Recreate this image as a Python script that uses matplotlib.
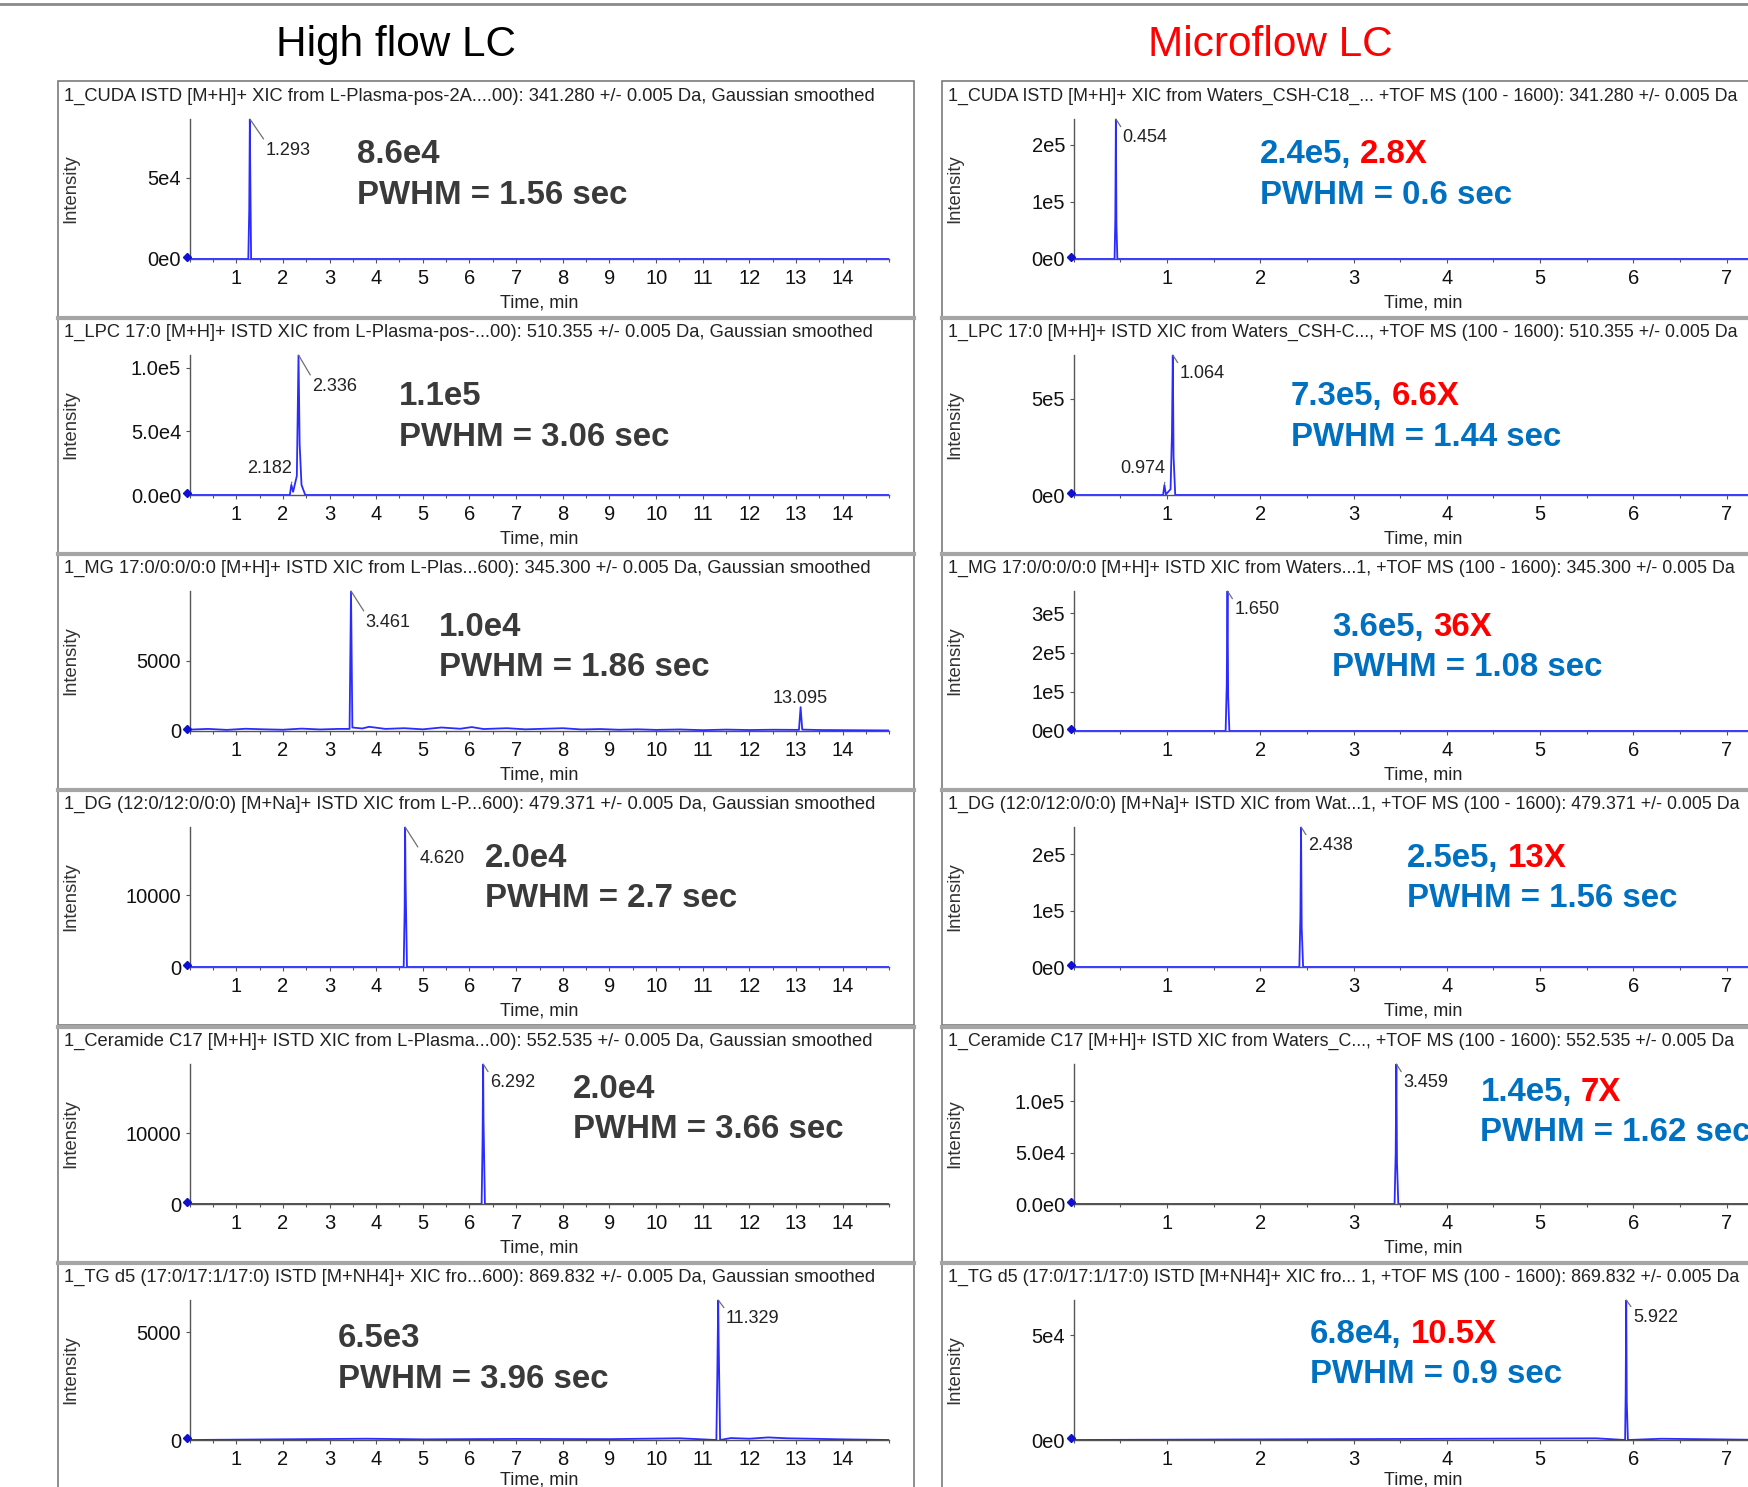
import matplotlib
matplotlib.use("Agg")
import matplotlib.pyplot as plt
from matplotlib.patches import Rectangle
from matplotlib.lines import Line2D
from matplotlib.ticker import MultipleLocator
import matplotlib.transforms as mtransforms

plt.rcParams['font.family'] = ['Liberation Sans', 'DejaVu Sans']

# ---------------- data ----------------
col_titles = ["High flow LC", "Microflow LC"]

left_titles = [
    "1_CUDA ISTD [M+H]+ XIC from L-Plasma-pos-2A....00): 341.280 +/- 0.005 Da, Gaussian smoothed",
    "1_LPC 17:0 [M+H]+ ISTD XIC from L-Plasma-pos-...00): 510.355 +/- 0.005 Da, Gaussian smoothed",
    "1_MG 17:0/0:0/0:0 [M+H]+ ISTD XIC from L-Plas...600): 345.300 +/- 0.005 Da, Gaussian smoothed",
    "1_DG (12:0/12:0/0:0) [M+Na]+ ISTD XIC from L-P...600): 479.371 +/- 0.005 Da, Gaussian smoothed",
    "1_Ceramide C17 [M+H]+ ISTD XIC from L-Plasma...00): 552.535 +/- 0.005 Da, Gaussian smoothed",
    "1_TG d5 (17:0/17:1/17:0) ISTD [M+NH4]+ XIC fro...600): 869.832 +/- 0.005 Da, Gaussian smoothed",
]
right_titles = [
    "1_CUDA ISTD [M+H]+ XIC from Waters_CSH-C18_... +TOF MS (100 - 1600): 341.280 +/- 0.005 Da",
    "1_LPC 17:0 [M+H]+ ISTD XIC from Waters_CSH-C..., +TOF MS (100 - 1600): 510.355 +/- 0.005 Da",
    "1_MG 17:0/0:0/0:0 [M+H]+ ISTD XIC from Waters...1, +TOF MS (100 - 1600): 345.300 +/- 0.005 Da",
    "1_DG (12:0/12:0/0:0) [M+Na]+ ISTD XIC from Wat...1, +TOF MS (100 - 1600): 479.371 +/- 0.005 Da",
    "1_Ceramide C17 [M+H]+ ISTD XIC from Waters_C..., +TOF MS (100 - 1600): 552.535 +/- 0.005 Da",
    "1_TG d5 (17:0/17:1/17:0) ISTD [M+NH4]+ XIC fro... 1, +TOF MS (100 - 1600): 869.832 +/- 0.005 Da",
]

# traces: retention time (min) and intensity points
left_t = [
    [0, 1.26, 1.28, 1.293, 1.30, 1.32, 15],
    [0, 2.15, 2.182, 2.22, 2.30, 2.336, 2.36, 2.40, 2.48, 15],
    [0, 0.4, 0.8, 1.2, 1.6, 2.0, 2.4, 2.8, 3.2, 3.43, 3.461, 3.49, 3.7, 3.85, 4.2, 4.6,
     5.0, 5.4, 5.8, 6.05, 6.3, 6.8, 7.2, 7.6, 8.0, 8.4, 8.8, 9.2, 9.6, 10.0, 10.5, 11.0,
     11.5, 12.0, 12.5, 13.06, 13.095, 13.13, 13.5, 14.0, 14.5, 15.0],
    [0, 4.59, 4.61, 4.620, 4.63, 4.66, 15],
    [0, 6.26, 6.28, 6.292, 6.30, 6.33, 15],
    [0, 3.8, 5.0, 7.0, 9.0, 10.5, 11.29, 11.31, 11.329, 11.34, 11.37, 11.6, 12.0, 12.4, 12.8, 13.3, 14.0, 15],
]
left_y = [
    [0, 0, 30000, 86000, 60000, 0, 0],
    [0, 0, 8000, 2500, 15000, 110000, 40000, 8000, 0, 0],
    [100, 150, 80, 160, 120, 90, 170, 110, 150, 150, 10000, 250, 180, 300, 150, 200,
     120, 250, 160, 280, 140, 200, 120, 160, 200, 110, 140, 90, 120, 80, 110, 60,
     100, 70, 90, 80, 1700, 100, 70, 60, 50, 40],
    [0, 0, 8000, 19500, 12000, 0, 0],
    [0, 0, 9000, 19800, 12000, 0, 0],
    [0, 60, 30, 50, 40, 80, 0, 3000, 6500, 4500, 0, 90, 60, 120, 80, 60, 30, 0],
]
right_t = [
    [0, 0.44, 0.448, 0.454, 0.46, 0.47, 7.5],
    [0, 0.96, 0.974, 0.99, 1.04, 1.055, 1.064, 1.072, 1.09, 7.5],
    [0, 1.63, 1.642, 1.650, 1.657, 1.67, 7.5],
    [0, 2.42, 2.431, 2.438, 2.445, 2.46, 7.5],
    [0, 3.44, 3.452, 3.459, 3.466, 3.48, 7.5],
    [0, 5.6, 5.91, 5.916, 5.922, 5.928, 5.94, 6.3, 7.5],
]
right_y = [
    [0, 0, 70000, 245000, 60000, 0, 0],
    [0, 0, 52000, 3000, 30000, 320000, 727000, 200000, 0, 0],
    [0, 0, 120000, 357000, 90000, 0, 0],
    [0, 0, 90000, 248000, 70000, 0, 0],
    [0, 0, 50000, 136000, 40000, 0, 0],
    [0, 800, 0, 22000, 66700, 18000, 0, 600, 0],
]

left_ticks = [[0, 5e4], [0, 5e4, 1e5], [0, 5000], [0, 10000], [0, 10000], [0, 5000]]
left_tick_labels = [["0e0", "5e4"], ["0.0e0", "5.0e4", "1.0e5"], ["0", "5000"],
                    ["0", "10000"], ["0", "10000"], ["0", "5000"]]
right_ticks = [[0, 1e5, 2e5], [0, 5e5], [0, 1e5, 2e5, 3e5], [0, 1e5, 2e5], [0, 5e4, 1e5], [0, 5e4]]
right_tick_labels = [["0e0", "1e5", "2e5"], ["0e0", "5e5"], ["0e0", "1e5", "2e5", "3e5"],
                     ["0e0", "1e5", "2e5"], ["0.0e0", "5.0e4", "1.0e5"], ["0e0", "5e4"]]
x_tick_max = [14, 7]

# labelled peaks: (rt, intensity)
left_peaks = [[(1.293, 86000)], [(2.336, 110000), (2.182, 8000)], [(3.461, 10000), (13.095, 1700)],
              [(4.620, 19500)], [(6.292, 19800)], [(11.329, 6500)]]
right_peaks = [[(0.454, 245000)], [(1.064, 727000), (0.974, 52000)], [(1.650, 357000)],
               [(2.438, 248000)], [(3.459, 136000)], [(5.922, 66700)]]

left_height = ["8.6e4", "1.1e5", "1.0e4", "2.0e4", "2.0e4", "6.5e3"]
left_pwhm = ["PWHM = 1.56 sec", "PWHM = 3.06 sec", "PWHM = 1.86 sec",
             "PWHM = 2.7 sec", "PWHM = 3.66 sec", "PWHM = 3.96 sec"]
right_height = ["2.4e5,", "7.3e5,", "3.6e5,", "2.5e5,", "1.4e5,", "6.8e4,"]
right_gain = ["2.8X", "6.6X", "36X", "13X", "7X", "10.5X"]
right_pwhm = ["PWHM = 0.6 sec", "PWHM = 1.44 sec", "PWHM = 1.08 sec",
              "PWHM = 1.56 sec", "PWHM = 1.62 sec", "PWHM = 0.9 sec"]

# ---------------- layout (pixels of the 1748x1487 canvas) ----------------
W, H = 1748, 1487
S = 1748 / 1568.0
row_tops = [81, 317, 553, 789, 1026, 1262]
row_h = 236
box_left = [58, 942]
box_w = 856
ax_left = [189.5, 1073.5]
ax_w = 700
xmax = [15, 7.5]
title_size = [13.25, 12.9]

# annotation text positions (shrunk coords: x, y line1, y line2)
left_txt_pos = [(320, 139, 175), (358, 356, 392), (394, 563, 599), (435, 770, 806), (514, 977, 1013), (303, 1201, 1237)]
right_txt_pos = [(1130, 139, 175), (1158, 356, 392), (1195, 563, 599), (1262, 770, 806), (1328, 980, 1016), (1175, 1197, 1233)]
# peak label offsets in shrunk px (dx, dy down, mode)
left_lbl_off = [[(14, 28, 'lead')], [(12, 28, 'lead'), (1, 15, 'above')], [(13, 28, 'lead'), (0, 8, 'top')],
                [(13, 28, 'lead')], [(6, 17, 'hook')], [(7, 17, 'hook')]]
right_lbl_off = [[(6, 17, 'hook')], [(6, 17, 'hook'), (1, 15, 'above')], [(6, 17, 'hook')],
                 [(6, 17, 'hook')], [(6, 17, 'hook')], [(6, 16, 'hook')]]

TRACE = '#2b2bff'
DARK = '#3a3a3a'
BLUE = '#0070C0'
RED = '#FF0000'


def fx(x):
    return x / W


def fy(y):
    return 1 - y / H


fig = plt.figure(figsize=(W / 100, H / 100), dpi=100)

# top rule
fig.add_artist(Line2D([0, 1], [fy(4), fy(4)], transform=fig.transFigure, color='#8a8a8a', lw=2))

fig.text(fx(396), fy(45), col_titles[0], fontsize=30.4, ha='center', va='center', color='black')
fig.text(fx(1270), fy(45), col_titles[1], fontsize=30.4, ha='center', va='center', color=RED)

for c in range(2):
    titles = [left_titles, right_titles][c]
    ts = [left_t, right_t][c]
    ys = [left_y, right_y][c]
    ticks = [left_ticks, right_ticks][c]
    tlabels = [left_tick_labels, right_tick_labels][c]
    peaks = [left_peaks, right_peaks][c]
    offs = [left_lbl_off, right_lbl_off][c]
    for r in range(6):
        top = row_tops[r]
        # panel frame
        fig.add_artist(Rectangle((fx(box_left[c]), fy(top + row_h)), box_w / W, row_h / H,
                                 transform=fig.transFigure, fill=False, ec='#7a7a7a', lw=1.2))
        if r > 0:
            fig.add_artist(Line2D([fx(box_left[c]), fx(box_left[c] + box_w)], [fy(top + 1), fy(top + 1)],
                                  transform=fig.transFigure, color='#a5a5a5', lw=3))
        fig.text(fx(box_left[c] + 6), fy(top + 15), titles[r], fontsize=title_size[c], ha='left', va='center',
                 color='#222222')

        ax = fig.add_axes([fx(ax_left[c]), fy(top + 178), ax_w / W, 140 / H])
        ax.plot(ts[r], ys[r], color=TRACE, lw=1.3, zorder=3)
        ymax = max(ys[r])
        ax.set_xlim(0, xmax[c])
        ax.set_ylim(0, ymax)
        for s in ['top', 'right']:
            ax.spines[s].set_visible(False)
        for s in ['left', 'bottom']:
            ax.spines[s].set_color('#555555')
            ax.spines[s].set_linewidth(1.0)
        ax.xaxis.set_minor_locator(MultipleLocator(0.5))
        ax.set_xticks(range(1, x_tick_max[c] + 1))
        ax.set_yticks(ticks[r])
        ax.set_yticklabels(tlabels[r])
        ax.tick_params(axis='both', which='major', length=3, width=0.8, color='#555555',
                       labelsize=14.5, labelcolor='#111111')
        ax.tick_params(axis='x', which='major', pad=4.5)
        ax.tick_params(axis='y', which='major', pad=3)
        ax.tick_params(axis='x', which='minor', length=2, width=0.8, color='#555555')
        ax.patch.set_alpha(0)

        # small blue marker at origin
        off = mtransforms.offset_copy(ax.transData, fig=fig, x=-3, y=2, units='dots')
        ax.plot([0], [0], marker='D', ms=4, color='#1010d0', transform=off, clip_on=False, zorder=4)

        ty = -0.315 if r < 5 else -0.285
        ax.text(0.5, ty, "Time, min", transform=ax.transAxes, fontsize=13, ha='center', va='center',
                color='#222222')
        ax.text(-0.169, 0.5, "Intensity", transform=ax.transAxes, fontsize=13.3, rotation=90,
                ha='center', va='center', color='#333333')

        for (pt, ph), (dx, dy, mode) in zip(peaks[r], offs[r]):
            lab = "%.3f" % pt
            dxp, dyp = dx * S, dy * S
            if mode in ('lead', 'hook'):
                ax.annotate(lab, xy=(pt, ph), xytext=(dxp, -dyp), textcoords='offset pixels',
                            fontsize=13, ha='left', va='center', color='#222222', annotation_clip=False,
                            arrowprops=dict(arrowstyle='-', color='#707070', lw=0.9, relpos=(0, 1),
                                            shrinkA=0, shrinkB=0))
            elif mode == 'above':
                ax.annotate(lab, xy=(pt, ph), xytext=(dxp, dyp), textcoords='offset pixels',
                            fontsize=13, ha='right', va='center', color='#222222', annotation_clip=False,
                            arrowprops=dict(arrowstyle='-', color='#707070', lw=0.9, ls=(0, (2, 1)),
                                            relpos=(1, 0), shrinkA=2, shrinkB=1))
            else:
                ax.annotate(lab, xy=(pt, ph), xytext=(dxp, dyp), textcoords='offset pixels',
                            fontsize=13, ha='center', va='center', color='#222222', annotation_clip=False)

        # big annotation texts
        if c == 0:
            x0, y1, y2 = left_txt_pos[r]
            fig.text(fx(x0 * S), fy(y1 * S), left_height[r], fontsize=23.8, fontweight='bold',
                     ha='left', va='center', color=DARK)
            fig.text(fx(x0 * S), fy(y2 * S), left_pwhm[r], fontsize=23.8, fontweight='bold',
                     ha='left', va='center', color=DARK)
        else:
            x0, y1, y2 = right_txt_pos[r]
            t1 = fig.text(fx(x0 * S), fy(y1 * S), right_height[r], fontsize=23.8, fontweight='bold',
                          ha='left', va='center', color=BLUE)
            ax.annotate(right_gain[r], xy=(1, 0.5), xycoords=t1, xytext=(6.5, 0), textcoords='offset points',
                        fontsize=23.8, fontweight='bold', ha='left', va='center', color=RED,
                        annotation_clip=False)
            fig.text(fx(x0 * S), fy(y2 * S), right_pwhm[r], fontsize=23.8, fontweight='bold',
                     ha='left', va='center', color=BLUE)

fig.savefig("out.png", dpi=100)
